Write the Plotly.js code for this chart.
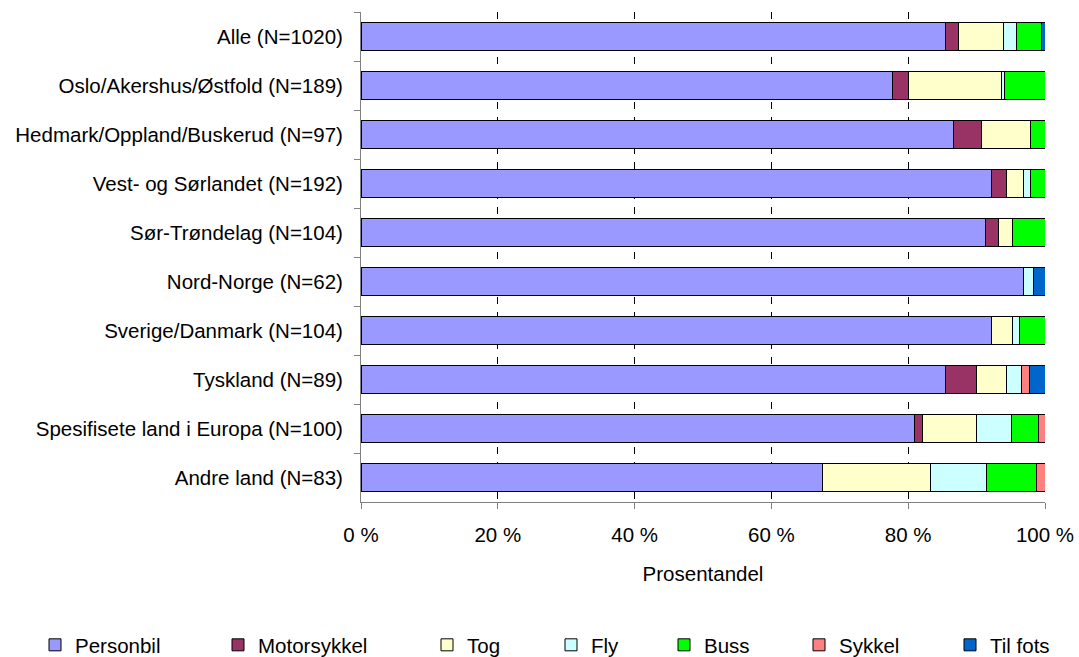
<!DOCTYPE html>
<html>
<head>
<meta charset="utf-8">
<script src="https://cdn.plot.ly/plotly-3.0.1.min.js"></script>
<style>
  html, body { margin: 0; padding: 0; background: #ffffff; }
  #chart { width: 1079px; height: 657px; }
</style>
</head>
<body>
<div id="chart"></div>
<script>
const categories = [
  "Alle (N=1020)",
  "Oslo/Akershus/Østfold (N=189)",
  "Hedmark/Oppland/Buskerud (N=97)",
  "Vest- og Sørlandet (N=192)",
  "Sør-Trøndelag (N=104)",
  "Nord-Norge (N=62)",
  "Sverige/Danmark (N=104)",
  "Tyskland (N=89)",
  "Spesifisete land i Europa (N=100)",
  "Andre land (N=83)"
];

const personbil   = [85.4, 77.7, 86.6, 92.2, 91.3, 96.8, 92.2, 85.4, 80.9, 67.5];
const motorsykkel = [ 2.0,  2.3,  4.1,  2.2,  1.9,  0.0,  0.0,  4.6,  1.2,  0.0];
const tog         = [ 6.5, 13.6,  7.2,  2.4,  2.1,  0.0,  3.0,  4.3,  7.9, 15.7];
const fly         = [ 1.9,  0.5,  0.0,  1.1,  0.0,  1.5,  1.0,  2.2,  5.1,  8.3];
const buss        = [ 3.7,  5.9,  2.1,  2.1,  4.7,  0.0,  3.8,  0.0,  3.9,  7.3];
const sykkel      = [ 0.0,  0.0,  0.0,  0.0,  0.0,  0.0,  0.0,  1.2,  1.0,  1.2];
const tilFots     = [ 0.5,  0.0,  0.0,  0.0,  0.0,  1.7,  0.0,  2.3,  0.0,  0.0];

const seriesNames = ["Personbil", "Motorsykkel", "Tog", "Fly", "Buss", "Sykkel", "Til fots"];
const seriesValues = [personbil, motorsykkel, tog, fly, buss, sykkel, tilFots];
const seriesColors = ["#9999FF", "#993366", "#FFFFCC", "#CCFFFF", "#00FF00", "#FF8080", "#0066CC"];

const xTickVals = [0, 20, 40, 60, 80, 100];
const xTickText = ["0 %", "20 %", "40 %", "60 %", "80 %", "100 %"];

// layout geometry
const W = 1079, H = 657;
const plotL = 361, plotR = 1045, plotT = 12, plotB = 502;
const pw = plotR - plotL, ph = plotB - plotT;
const legendTextX = [75, 258, 467, 591, 704, 839, 990];
const legendCY = 645;

const FONT = "Liberation Sans, Arial, sans-serif";
const FS = 20.5;

const traces = seriesNames.map((name, i) => ({
  type: "bar",
  orientation: "h",
  name: name,
  y: categories,
  x: seriesValues[i],
  marker: { color: seriesColors[i], line: { color: "#000000", width: 1 } },
  legend: i === 0 ? "legend" : "legend" + (i + 1),
  hoverinfo: "name+x"
}));

const layout = {
  width: W,
  height: H,
  barmode: "stack",
  bargap: 0.415,
  paper_bgcolor: "#ffffff",
  plot_bgcolor: "#ffffff",
  font: { family: FONT, size: FS, color: "#000000" },
  margin: { l: plotL, r: W - plotR, t: plotT, b: H - plotB, pad: 0, autoexpand: false },
  xaxis: {
    range: [0, 100],
    tickmode: "array",
    tickvals: xTickVals,
    ticktext: xTickText,
    showgrid: true,
    gridcolor: "#000000",
    gridwidth: 1,
    griddash: "7px,8px",
    zeroline: false,
    showline: true,
    linecolor: "#808080",
    linewidth: 1,
    ticks: "outside",
    ticklen: 6,
    tickcolor: "#808080",
    tickfont: { family: FONT, size: FS, color: "#000000" },
    ticklabelstandoff: 8,
    title: { text: "Prosentandel", font: { family: FONT, size: FS, color: "#000000" }, standoff: 22 },
    automargin: false,
    fixedrange: true
  },
  yaxis: {
    type: "category",
    autorange: "reversed",
    showgrid: false,
    zeroline: false,
    showline: true,
    linecolor: "#808080",
    linewidth: 1,
    ticks: "outside",
    tickson: "boundaries",
    ticklen: 6,
    tickcolor: "#808080",
    tickfont: { family: FONT, size: FS, color: "#000000" },
    ticklabelstandoff: 13,
    automargin: false,
    fixedrange: true
  },
  showlegend: true
};

seriesNames.forEach((n, i) => {
  const key = i === 0 ? "legend" : "legend" + (i + 1);
  layout[key] = {
    x: (legendTextX[i] - 40 - plotL) / pw,
    xanchor: "left",
    y: (plotB - legendCY) / ph,
    yanchor: "middle",
    orientation: "h",
    bgcolor: "rgba(0,0,0,0)",
    borderwidth: 0,
    font: { family: FONT, size: FS, color: "#000000" }
  };
});

Plotly.newPlot("chart", traces, layout, { displayModeBar: false, staticPlot: true });
</script>
</body>
</html>
